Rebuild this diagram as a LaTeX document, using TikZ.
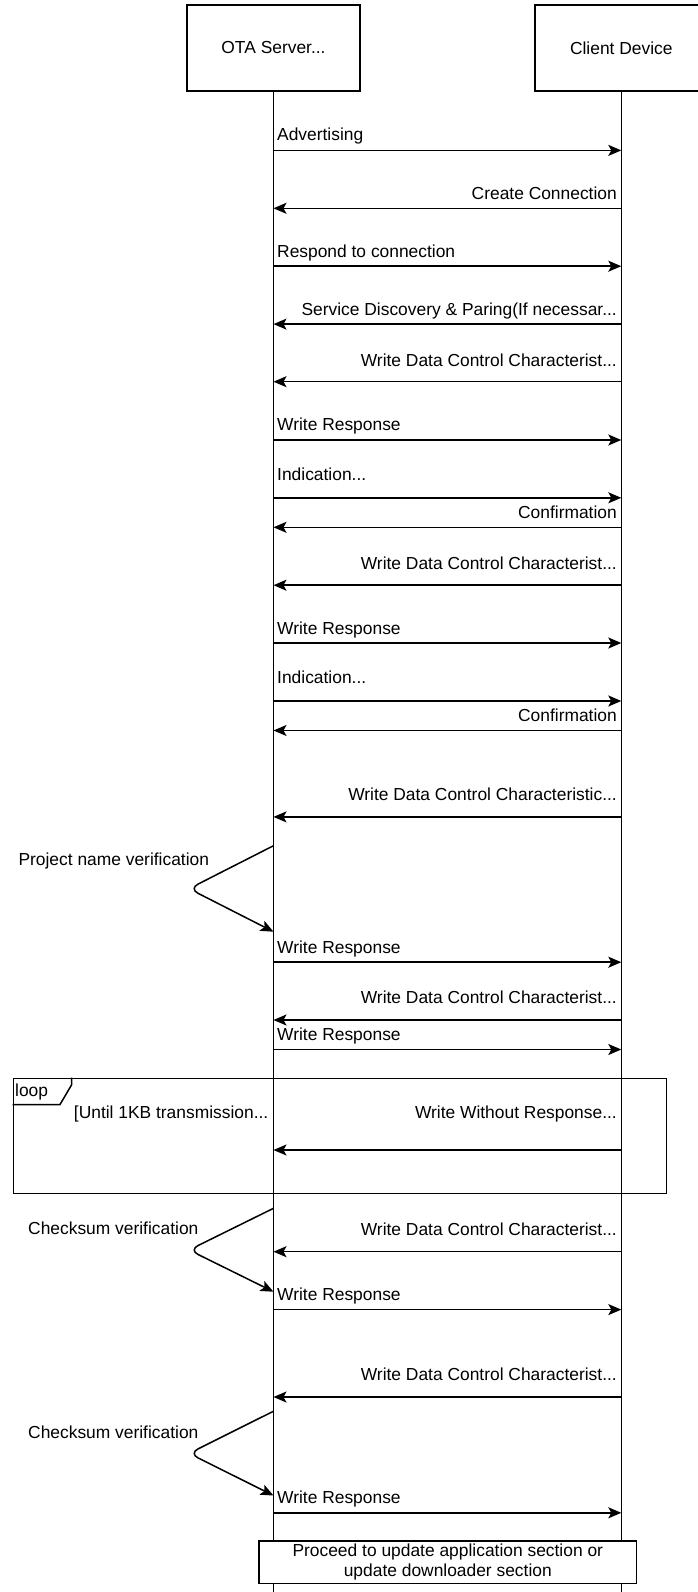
\documentclass[tikz,border=0pt]{standalone}
\usepackage{fontspec}
\setmainfont{Liberation Sans}
\usetikzlibrary{arrows.meta}
\begin{document}
\begin{tikzpicture}[x=1pt,y=-1pt,
  every node/.style={font=\fontsize{17.4}{19.6}\selectfont, inner sep=0pt},
  line/.style={line width=1.5pt, draw=black},
  msg/.style={line width=1.5pt, -{Stealth[length=13pt,width=11pt,inset=3pt]}},
  partbox/.style={draw, line width=1.5pt, minimum width=173pt, minimum height=86pt, fill=white},
  lblL/.style={anchor=base west},
  lblR/.style={anchor=base east},
  lblC/.style={anchor=base}]
\useasboundingbox (0,0) rectangle (697,1592);
\fill[white] (0,0) rectangle (697,1592);

% participants
\node[partbox] (ota) at (273.5,48) {OTA Server...};
\node[partbox] (cli) at (621.3,48) {Client Device};
\coordinate (otaend) at (273.5,1592);
\coordinate (cliend) at (621.3,1592);
\draw[line] (ota.south) -- (otaend);
\draw[line] (cli.south) -- (cliend);

% loop frame
\node[draw, line width=1.5pt, anchor=north west, minimum width=653pt, minimum height=115.3pt] (loopframe) at (12.5,1077.5) {};
\draw[line] (loopframe.north west) ++(59,0) -- ++(0,7.5) -- ++(-11.5,19.5) -- ++(-47.5,0);
\node[lblL] (looplbl) at (15,1096.5) {loop};
\node[lblR] (cond) at (268.5,1118) {[Until 1KB transmission...};

% messages: server -> client (rightward) and client -> server (leftward)
\foreach \n/\y in {1/150.4,2/208.3,3/266.2,4/324.1,5/381.7,6/440,7/497.8,8/527.3,9/585.2,10/643,11/701,12/730.5,13/816.9,15/962.2,16/1020,17/1049.5,18/1150,20/1251.7,21/1309.6,22/1397,24/1512.8}{
  \coordinate (s\n) at (273.5,\y);
  \coordinate (c\n) at (621.3,\y);
}
\draw[msg] (s1) -- (c1);   \node[lblL] (t1) at (277,140.5) {Advertising};
\draw[msg] (c2) -- (s2);   \node[lblR] (t2) at (617,199) {Create Connection};
\draw[msg] (s3) -- (c3);   \node[lblL] (t3) at (277,257) {Respond to connection};
\draw[msg] (c4) -- (s4);   \node[lblR] (t4) at (617,315) {Service Discovery \& Paring(If necessar...};
\draw[msg] (c5) -- (s5);   \node[lblR] (t5) at (617,366.5) {Write Data Control Characterist...};
\draw[msg] (s6) -- (c6);   \node[lblL] (t6) at (277,430.7) {Write Response};
\draw[msg] (s7) -- (c7);   \node[lblL] (t7) at (277,480.5) {Indication...};
\draw[msg] (c8) -- (s8);   \node[lblR] (t8) at (617,518) {Confirmation};
\draw[msg] (c9) -- (s9);   \node[lblR] (t9) at (617,569) {Write Data Control Characterist...};
\draw[msg] (s10) -- (c10); \node[lblL] (t10) at (277,634) {Write Response};
\draw[msg] (s11) -- (c11); \node[lblL] (t11) at (277,683.7) {Indication...};
\draw[msg] (c12) -- (s12); \node[lblR] (t12) at (617,721.3) {Confirmation};
\draw[msg] (c13) -- (s13); \node[lblR] (t13) at (617,800.5) {Write Data Control Characteristic...};
\draw[msg] (s15) -- (c15); \node[lblL] (t15) at (277,953) {Write Response};
\draw[msg] (c16) -- (s16); \node[lblR] (t16) at (617,1003.7) {Write Data Control Characterist...};
\draw[msg] (s17) -- (c17); \node[lblL] (t17) at (277,1040.3) {Write Response};
\draw[msg] (c18) -- (s18); \node[lblR] (t18) at (617,1118) {Write Without Response...};
\draw[msg] (c20) -- (s20); \node[lblR] (t20) at (617,1235.4) {Write Data Control Characterist...};
\draw[msg] (s21) -- (c21); \node[lblL] (t21) at (277,1300.4) {Write Response};
\draw[msg] (c22) -- (s22); \node[lblR] (t22) at (617,1380.6) {Write Data Control Characterist...};
\draw[msg] (s24) -- (c24); \node[lblL] (t24) at (277,1503.6) {Write Response};

% self messages
\coordinate (pa) at (273.5,845.7); \coordinate (pt) at (189,888.7); \coordinate (pb) at (273.5,931.7);
\draw[msg, rounded corners=10pt] (pa) -- (pt) -- (pb);
\node[lblC] (pvl) at (113.8,865) {Project name verification};

\coordinate (ka) at (273.5,1208.3); \coordinate (kt) at (189,1250); \coordinate (kb) at (273.5,1291.7);
\draw[msg, rounded corners=10pt] (ka) -- (kt) -- (kb);
\node[lblC] (kvl) at (113.3,1234.3) {Checksum verification};

\coordinate (ma) at (273.5,1411.2); \coordinate (mt) at (189,1453.4); \coordinate (mb) at (273.5,1495.5);
\draw[msg, rounded corners=10pt] (ma) -- (mt) -- (mb);
\node[lblC] (mvl) at (113.3,1438.3) {Checksum verification};

% final box
\node[draw, line width=1.5pt, fill=white, minimum width=377.7pt, minimum height=42.3pt, align=center] (final) at (447.8,1562.2) {Proceed to update application section or\\update downloader section};
\end{tikzpicture}
\end{document}
